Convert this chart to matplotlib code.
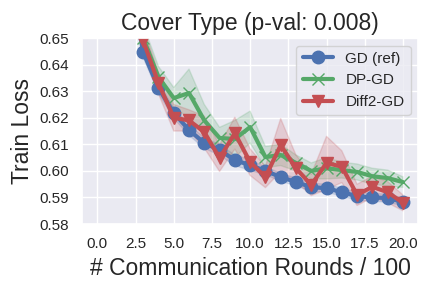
import matplotlib
matplotlib.use("Agg")
import matplotlib.pyplot as plt
import seaborn as sns
import numpy as np

sns.set()
plt.rcParams['font.family'] = ['Liberation Sans', 'DejaVu Sans']

rounds = list(range(21))
gd_mean = [0.80, 0.72, 0.675, 0.6447, 0.6312, 0.6218, 0.6154, 0.6105, 0.6079, 0.6040,
           0.6022, 0.6000, 0.5977, 0.5958, 0.5939, 0.5935, 0.5920, 0.5905, 0.5900, 0.5898, 0.5883]
gd_std = [0.004, 0.003, 0.002, 0.002, 0.002, 0.002, 0.002, 0.002, 0.002, 0.002,
          0.002, 0.0015, 0.0015, 0.0015, 0.0015, 0.0015, 0.0015, 0.0015, 0.0015, 0.0015, 0.0015]
dp_mean = [0.80, 0.725, 0.68, 0.6500, 0.6353, 0.6274, 0.6293, 0.6190, 0.6124, 0.6120,
           0.6165, 0.6052, 0.6060, 0.6030, 0.6000, 0.6010, 0.6003, 0.5996, 0.5980, 0.5973, 0.5958]
dp_std = [0.006, 0.005, 0.005, 0.005, 0.004, 0.004, 0.009, 0.006, 0.004, 0.007,
          0.006, 0.004, 0.004, 0.003, 0.003, 0.004, 0.003, 0.003, 0.003, 0.003, 0.002]
diff_mean = [0.80, 0.722, 0.678, 0.6490, 0.6330, 0.6200, 0.6190, 0.6146, 0.6048, 0.6142,
             0.6033, 0.5977, 0.6097, 0.6010, 0.5947, 0.6030, 0.6016, 0.5910, 0.5940, 0.5920, 0.5880]
diff_std = [0.006, 0.005, 0.005, 0.005, 0.004, 0.005, 0.004, 0.006, 0.005, 0.006,
            0.005, 0.004, 0.010, 0.005, 0.004, 0.010, 0.006, 0.004, 0.004, 0.004, 0.003]

xticks = [0, 2.5, 5, 7.5, 10, 12.5, 15, 17.5, 20]
yticks = [0.58, 0.59, 0.60, 0.61, 0.62, 0.63, 0.64, 0.65]

fig, ax = plt.subplots(figsize=(4.32, 2.88), dpi=100)

series = [
    ("GD (ref)", gd_mean, gd_std, "b", "o"),
    ("DP-GD", dp_mean, dp_std, "g", "x"),
    ("Diff2-GD", diff_mean, diff_std, "r", "v"),
]
for name, mean, std, c, m in series:
    mean = np.array(mean)
    std = np.array(std)
    ax.plot(rounds, mean, color=c, marker=m, linewidth=3, markersize=9, label=name)
    ax.fill_between(rounds, mean - std, mean + std, color=c, alpha=0.2)

ax.set_ylim(0.58, 0.65)
ax.set_xticks(xticks)
ax.set_xticklabels(["%.1f" % t for t in xticks])
ax.set_yticks(yticks)
ax.set_yticklabels(["%.2f" % t for t in yticks])
ax.tick_params(labelsize=11)
ax.set_title("Cover Type (p-val: 0.008)", fontsize=16.5)
ax.set_xlabel("# Communication Rounds / 100", fontsize=16.5)
ax.set_ylabel("Train Loss", fontsize=16.5)
ax.legend(loc="upper right", fontsize=11)

fig.subplots_adjust(left=0.19, right=0.968, top=0.868, bottom=0.222)
fig.savefig("out.png")
